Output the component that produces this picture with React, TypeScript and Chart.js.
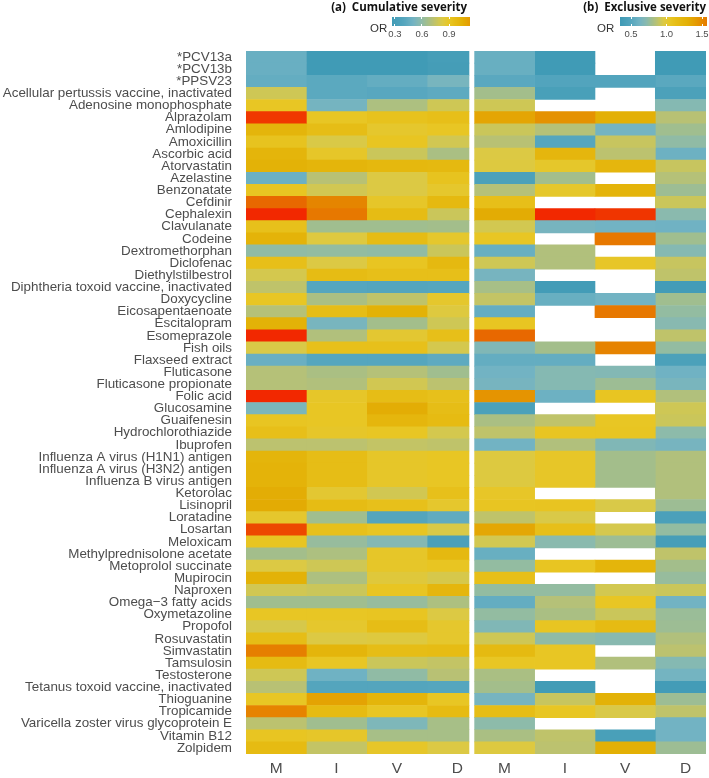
import React, { useEffect, useRef } from 'react';
import { Chart, registerables } from 'chart.js';
Chart.register(...registerables);

const drugs = [
  '*PCV13a', '*PCV13b', '*PPSV23', 'Acellular pertussis vaccine, inactivated', 'Adenosine monophosphate',
  'Alprazolam', 'Amlodipine', 'Amoxicillin', 'Ascorbic acid', 'Atorvastatin', 'Azelastine', 'Benzonatate',
  'Cefdinir', 'Cephalexin', 'Clavulanate', 'Codeine', 'Dextromethorphan', 'Diclofenac', 'Diethylstilbestrol',
  'Diphtheria toxoid vaccine, inactivated', 'Doxycycline', 'Eicosapentaenoate', 'Escitalopram', 'Esomeprazole',
  'Fish oils', 'Flaxseed extract', 'Fluticasone', 'Fluticasone propionate', 'Folic acid', 'Glucosamine',
  'Guaifenesin', 'Hydrochlorothiazide', 'Ibuprofen', 'Influenza A virus (H1N1) antigen',
  'Influenza A virus (H3N2) antigen', 'Influenza B virus antigen', 'Ketorolac', 'Lisinopril', 'Loratadine',
  'Losartan', 'Meloxicam', 'Methylprednisolone acetate', 'Metoprolol succinate', 'Mupirocin', 'Naproxen',
  'Omega\u22123 fatty acids', 'Oxymetazoline', 'Propofol', 'Rosuvastatin', 'Simvastatin', 'Tamsulosin',
  'Testosterone', 'Tetanus toxoid vaccine, inactivated', 'Thioguanine', 'Tropicamide',
  'Varicella zoster virus glycoprotein E', 'Vitamin B12', 'Zolpidem',
];

const columns = ['M', 'I', 'V', 'D'];

// (a) Cumulative severity ORs
const cumM = [0.47, 0.47, 0.45, 0.78, 0.90, 1.50, 1.02, 0.92, 1.02, 1.04, 0.48, 0.91, 1.35, 1.55, 0.94, 1.03, 0.60, 0.95, 0.80, 0.74, 0.90, 0.71, 1.04, 1.58, 0.82, 0.47, 0.71, 0.71, 1.60, 0.53, 0.91, 0.95, 0.73, 1.02, 1.03, 1.03, 1.06, 1.07, 0.88, 1.45, 0.91, 0.66, 0.83, 1.04, 0.79, 0.65, 0.90, 0.81, 0.96, 1.25, 0.98, 0.78, 0.72, 0.90, 1.23, 0.73, 0.91, 0.98];
const cumI = [0.26, 0.26, 0.42, 0.42, 0.51, 0.90, 0.96, 0.82, 0.89, 1.02, 0.72, 0.79, 1.22, 1.28, 0.65, 0.84, 0.61, 0.83, 0.97, 0.40, 0.68, 0.96, 0.52, 0.70, 0.94, 0.40, 0.68, 0.70, 0.89, 0.90, 0.90, 0.89, 0.73, 0.96, 0.96, 0.96, 0.87, 0.97, 0.65, 0.94, 0.62, 0.69, 0.78, 0.69, 0.77, 0.65, 0.90, 0.88, 0.83, 1.02, 0.90, 0.49, 0.39, 1.10, 0.98, 0.65, 0.89, 0.75];
const cumV = [0.26, 0.26, 0.45, 0.41, 0.69, 0.93, 0.88, 0.91, 0.77, 1.00, 0.83, 0.83, 0.89, 0.97, 0.65, 0.97, 0.60, 0.91, 0.95, 0.39, 0.74, 1.04, 0.66, 0.87, 0.94, 0.40, 0.71, 0.79, 0.96, 1.06, 1.01, 0.90, 0.75, 0.89, 0.89, 0.89, 0.79, 0.94, 0.39, 0.91, 0.56, 0.89, 0.89, 0.85, 0.91, 0.62, 0.91, 0.96, 0.84, 0.96, 0.77, 0.60, 0.39, 1.02, 0.90, 0.54, 0.67, 0.89];
const cumD = [0.30, 0.29, 0.52, 0.43, 0.78, 0.95, 0.90, 0.79, 0.68, 0.99, 0.92, 0.88, 0.99, 0.77, 0.66, 0.88, 0.77, 0.99, 0.95, 0.40, 0.88, 0.84, 0.78, 0.95, 0.80, 0.43, 0.65, 0.73, 0.94, 0.96, 0.98, 0.80, 0.74, 0.90, 0.90, 0.90, 0.94, 0.88, 0.44, 0.82, 0.33, 0.99, 0.91, 0.81, 1.01, 0.69, 0.83, 0.88, 0.88, 0.97, 0.75, 0.72, 0.40, 0.90, 0.98, 0.67, 0.67, 0.83];

// (b) Exclusive severity ORs (null = not estimated)
const exclM = [0.58, 0.58, 0.52, 0.80, 0.92, 1.36, 0.91, 0.86, 0.96, 0.97, 0.44, 0.85, 1.12, 1.32, 0.93, 1.05, 0.58, 0.92, 0.64, 0.81, 0.89, 0.56, 1.06, 1.65, 0.68, 0.56, 0.62, 0.64, 1.45, 0.44, 0.82, 0.88, 0.62, 0.97, 0.97, 0.97, 1.04, 1.06, 0.88, 1.35, 0.93, 0.58, 0.75, 1.12, 0.75, 0.56, 0.75, 0.68, 0.92, 1.18, 1.05, 0.82, 0.80, 0.64, 1.14, 0.73, 0.82, 0.97];
const exclI = [0.36, 0.36, 0.48, 0.42, null, 1.46, 0.85, 0.50, 1.22, 1.03, 0.80, 1.03, null, 1.95, 0.64, null, 0.84, 0.84, null, 0.38, 0.58, null, null, null, 0.80, 0.56, 0.70, 0.70, 0.60, null, 0.88, 1.06, 0.84, 1.04, 1.04, 1.04, null, 1.07, 0.95, 1.12, 0.72, null, 1.06, null, 0.75, 0.85, 0.82, 1.06, 0.74, 1.05, 1.05, null, 0.37, 0.90, 1.05, null, 0.88, 0.87];
const exclV = [null, null, 0.48, null, null, 1.30, 0.63, 0.90, 0.87, 1.22, null, 1.25, null, 1.85, 0.62, 1.58, null, 1.04, null, null, 0.62, 1.58, null, null, 1.53, null, 0.69, 0.78, 1.06, null, 1.05, 1.06, 0.68, 0.80, 0.80, 0.80, null, 0.95, null, 0.94, 0.78, null, 1.24, null, 0.93, 1.05, 0.91, 1.16, 0.71, null, 0.84, null, null, 1.28, 0.95, null, 0.42, 1.30];
const exclD = [0.36, 0.36, 0.52, 0.44, 0.70, 0.86, 0.79, 0.74, 0.60, 0.90, 0.85, 0.78, 0.91, 0.72, 0.61, 0.79, 0.70, 0.90, 0.88, 0.38, 0.79, 0.75, 0.71, 0.88, 0.75, 0.44, 0.61, 0.65, 0.84, 0.92, 0.91, 0.73, 0.64, 0.84, 0.84, 0.84, 0.84, 0.78, 0.43, 0.75, 0.40, 0.88, 0.80, 0.76, 0.91, 0.62, 0.77, 0.78, 0.84, 0.87, 0.70, 0.63, 0.38, 0.78, 0.88, 0.62, 0.62, 0.78];

// colour scales
const paletteColors = ['#3F9AB5', '#55A6BE', '#72B3C3', '#8ABAAE', '#A3BE8B', '#B8C174', '#CEC755', '#DCC944', '#E8C624', '#E6BC14', '#E3B005', '#E58A00', '#E86800', '#F22800'];
const cumStops = [0.25, 0.40, 0.50, 0.58, 0.66, 0.72, 0.78, 0.83, 0.90, 0.97, 1.05, 1.20, 1.35, 1.55];
const exclStops = [0.35, 0.50, 0.62, 0.72, 0.80, 0.86, 0.92, 0.96, 1.05, 1.15, 1.30, 1.50, 1.65, 1.90];

const cumLegendTicks = [0.3, 0.6, 0.9];
const cumLegendRange = [0.267, 1.133];
const exclLegendTicks = [0.5, 1.0, 1.5];
const exclLegendRange = [0.345, 1.57];

function hexToRgb(h: string) {
  const n = parseInt(h.slice(1), 16);
  return [(n >> 16) & 255, (n >> 8) & 255, n & 255];
}

function colorFor(v: number, stops: number[], colors: string[]) {
  if (v <= stops[0]) return colors[0];
  if (v >= stops[stops.length - 1]) return colors[colors.length - 1];
  for (let i = 0; i < stops.length - 1; i++) {
    if (v >= stops[i] && v <= stops[i + 1]) {
      const t = (v - stops[i]) / (stops[i + 1] - stops[i]);
      const a = hexToRgb(colors[i]);
      const b = hexToRgb(colors[i + 1]);
      const c = a.map((x, k) => Math.round(x + (b[k] - x) * t));
      return `rgb(${c[0]},${c[1]},${c[2]})`;
    }
  }
  return colors[0];
}

function gradientCss(range: number[], stops: number[]) {
  const [lo, hi] = range;
  const parts: string[] = [];
  const n = 40;
  for (let i = 0; i <= n; i++) {
    const v = lo + ((hi - lo) * i) / n;
    parts.push(`${colorFor(v, stops, paletteColors)} ${((i / n) * 100).toFixed(1)}%`);
  }
  return `linear-gradient(to right, ${parts.join(', ')})`;
}

const LABEL_FONT = "'Liberation Sans', Arial, Helvetica, sans-serif";

function buildChart(canvas: HTMLCanvasElement, series: (number | null)[][], stops: number[], showY: boolean, xMax: number, pad: { left: number; right: number }) {
  const datasets = series.map((vals, c) => ({
    data: vals.map((v) => (v == null ? null : [c, c + 1])),
    backgroundColor: vals.map((v) => (v == null ? 'rgba(0,0,0,0)' : colorFor(v, stops, paletteColors))),
    borderWidth: 0,
    barPercentage: 1,
    categoryPercentage: 1,
    grouped: false,
  }));
  return new Chart(canvas, {
    type: 'bar',
    data: { labels: drugs, datasets: datasets as any },
    options: {
      animation: false,
      responsive: false,
      indexAxis: 'y',
      layout: { padding: { top: 51, bottom: 0, left: pad.left, right: pad.right } },
      plugins: { legend: { display: false }, tooltip: { enabled: false } },
      scales: {
        x: {
          type: 'linear',
          min: 0,
          max: xMax,
          grid: { display: false, drawTicks: false },
          border: { display: false },
          afterBuildTicks: (s: any) => {
            s.ticks = columns.map((_, i) => ({ value: i + 0.5 }));
          },
          afterFit: (s: any) => {
            s.height = 24;
          },
          ticks: {
            autoSkip: false,
            maxRotation: 0,
            padding: 5,
            color: '#4D4D4D',
            font: { family: LABEL_FONT, size: 15.5 },
            callback: (_v: any, i: number) => columns[i],
          },
        },
        y: {
          type: 'category',
          display: showY,
          grid: { display: false, drawTicks: false },
          border: { display: false },
          afterFit: (s: any) => {
            s.width = showY ? 246 : 0;
          },
          ticks: {
            autoSkip: false,
            padding: 14,
            color: '#4D4D4D',
            font: { family: LABEL_FONT, size: 13.4 },
          },
        },
      },
    } as any,
  });
}

function Legend(props: { left: number; barLeft: number; barWidth: number; range: number[]; ticks: number[]; stops: number[]; fmt: (v: number) => string }) {
  const { left, barLeft, barWidth, range, ticks, stops, fmt } = props;
  const pos = (v: number) => barLeft + ((v - range[0]) / (range[1] - range[0])) * barWidth;
  return (
    <>
      <div style={{ position: 'absolute', left, top: 21, fontFamily: LABEL_FONT, fontSize: 11.5, color: '#333', lineHeight: '14px' }}>OR</div>
      <div style={{ position: 'absolute', left: barLeft, top: 17, width: barWidth, height: 9, background: gradientCss(range, stops) }} />
      {ticks.map((t) => (
        <React.Fragment key={t}>
          <div style={{ position: 'absolute', left: pos(t) - 0.5, top: 17, width: 1, height: 2, background: '#fff' }} />
          <div style={{ position: 'absolute', left: pos(t) - 0.5, top: 24, width: 1, height: 2, background: '#fff' }} />
          <div style={{ position: 'absolute', left: pos(t) - 15, width: 30, top: 28, textAlign: 'center', fontFamily: "'Liberation Sans Narrow', " + LABEL_FONT, fontSize: 9.5, color: '#4D4D4D', lineHeight: '11px' }}>{fmt(t)}</div>
        </React.Fragment>
      ))}
    </>
  );
}

export default function App() {
  const leftRef = useRef<HTMLCanvasElement>(null);
  const rightRef = useRef<HTMLCanvasElement>(null);

  useEffect(() => {
    document.body.style.margin = '0';
    const a = buildChart(leftRef.current!, [cumM, cumI, cumV, cumD], cumStops, true, 3.70, { left: 0, right: 0.7 });
    const b = buildChart(rightRef.current!, [exclM, exclI, exclV, exclD], exclStops, false, 3.84, { left: 0.3, right: 3 });
    return () => {
      a.destroy();
      b.destroy();
    };
  }, []);

  const titleStyle: React.CSSProperties = {
    position: 'absolute',
    top: 0,
    fontFamily: "'Open Sans', 'DejaVu Sans', sans-serif",
    fontWeight: 700,
    fontSize: 11.5,
    lineHeight: '14px',
    color: '#111',
    whiteSpace: 'pre',
  };

  return (
    <div style={{ position: 'relative', width: 709, height: 778, background: '#fff', overflow: 'hidden' }}>
      <canvas ref={leftRef} width={470} height={778} style={{ position: 'absolute', left: 0, top: 0 }} />
      <canvas ref={rightRef} width={235} height={778} style={{ position: 'absolute', left: 474, top: 0 }} />
      <div style={{ ...titleStyle, right: 709 - 467 }}>{'(a)  Cumulative severity'}</div>
      <div style={{ ...titleStyle, right: 3 }}>{'(b)  Exclusive severity'}</div>
      <Legend left={370} barLeft={392} barWidth={78} range={cumLegendRange} ticks={cumLegendTicks} stops={cumStops} fmt={(v) => v.toFixed(1)} />
      <Legend left={597} barLeft={620} barWidth={87} range={exclLegendRange} ticks={exclLegendTicks} stops={exclStops} fmt={(v) => v.toFixed(1)} />
    </div>
  );
}
